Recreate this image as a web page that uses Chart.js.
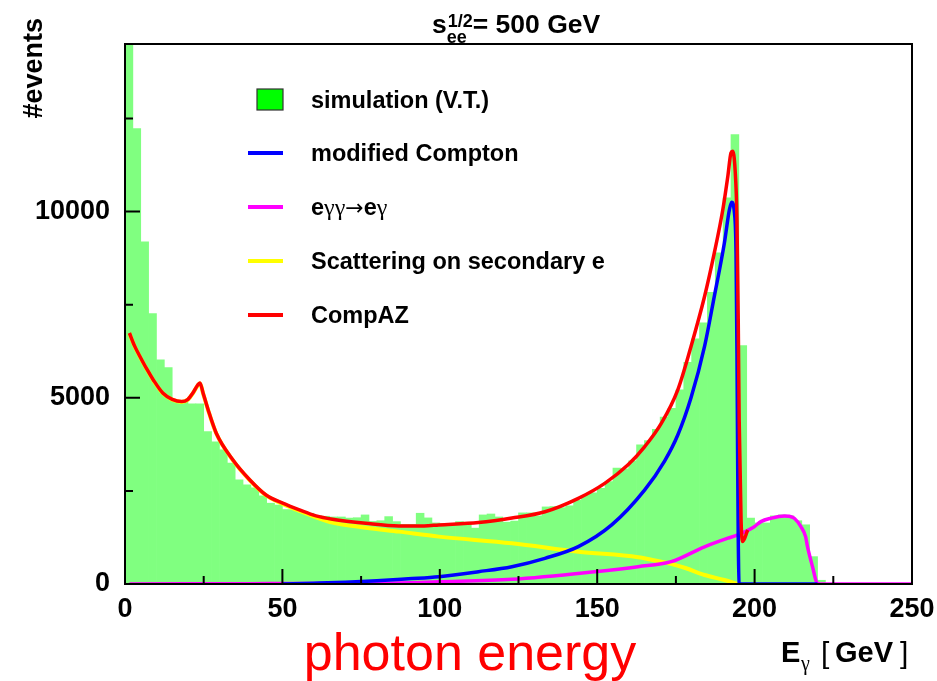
<!DOCTYPE html>
<html>
<head>
<meta charset="utf-8">
<script src="https://cdn.jsdelivr.net/npm/chart.js@4/dist/chart.umd.min.js"></script>
<style>
  html, body { margin: 0; padding: 0; background: #ffffff; }
  #c { display: block; }
</style>
</head>
<body>
<canvas id="c" width="937" height="681"></canvas>
<script>
// Photon energy spectrum at sqrt(s_ee) = 500 GeV: simulated histogram and CompAZ components

// Histogram: 2.5 GeV bins from 0 to 250 GeV (events per bin)
const binWidth = 2.5;
const simCounts = [
  15000, 12230, 9190, 7260, 6020, 5810, 4890, 4890, 4840, 4840,
  4090, 3820, 3600, 3250, 2800, 2660, 2580, 2370, 2170, 2120,
  2000, 1990, 1910, 1900, 1830, 1820, 1800, 1800, 1770, 1780,
  1855, 1680, 1700, 1810, 1675, 1600, 1600, 1900, 1775, 1640,
  1620, 1620, 1675, 1650, 1500, 1855, 1880, 1800, 1660, 1690,
  1910, 1910, 1830, 2070, 2080, 2050, 2100, 2250, 2380, 2450,
  2570, 2750, 3110, 3090, 3310, 3740, 3850, 4150, 4480, 4720,
  5215, 5950, 6580, 7010, 7830, 8890, 10370, 12070, 6400, 1770,
  1640, 1640, 1830, 1855, 1830, 1700, 1590, 735, 100, 0,
  0, 0, 0, 0, 0, 0, 0, 0, 0, 0
];
const binCenters = simCounts.map((_, i) => binWidth * (i + 0.5));

// CompAZ total
const compazE = [1.4, 3, 4.75, 7, 9, 12, 15, 18, 20, 21.5, 23, 23.8, 24.8, 26.4, 29, 34.3, 39.6, 44.8, 50.1, 55.4,
  60.7, 65.9, 76.5, 87, 95, 99.7, 112.3, 122.9, 133.4, 144, 152.5, 159.8, 165.1, 170.4, 175.6, 179.8, 184.1, 187.2,
  189.9, 191.5, 192.5, 193.0, 193.8, 194.4, 194.8, 195.1, 195.7, 196.2, 197.8];
const compazV = [6740, 6400, 6110, 5760, 5480, 5130, 4960, 4900, 4960, 5120, 5330, 5400, 5130, 4680, 4050, 3330, 2800, 2390, 2170, 1990,
  1830, 1740, 1630, 1560, 1560, 1585, 1650, 1770, 1940, 2300, 2710, 3200, 3690, 4320, 5215, 6380, 7720, 8890,
  10050, 10950, 11580, 11620, 11130, 9780, 7100, 4410, 1720, 1140, 1450];

// modified Compton
const comptonE = [50, 60, 70, 80, 90, 99.7, 112.3, 122.9, 133.4, 144, 154.6, 165.1, 171.4, 175.6, 179.8, 184.1, 187.2,
  190.4, 192, 192.7, 193.6, 194.1, 194.4, 194.6, 194.8, 195.1, 195.5, 220];
const comptonV = [0, 20, 45, 85, 140, 197, 331, 465, 690, 1003, 1586, 2527, 3300, 4000, 5000, 6379, 7723,
  9158, 10053, 10249, 9964, 8889, 6201, 3513, 1271, 20, 0, 0];

// e gamma gamma -> e gamma
const eggE = [1.4, 20, 40, 60, 80.7, 99.7, 122.9, 149.3, 163, 173.5, 184.1, 191.5, 194.6, 199.9, 202, 205.2, 209.4, 211,
  212.6, 214.7, 216.2, 216.8, 218.4, 219.9, 221, 250];
const eggV = [0, 5, 10, 15, 20, 60, 125, 330, 465, 600, 1000, 1230, 1317, 1540, 1675, 1766, 1828, 1820,
  1766, 1540, 1272, 1003, 465, 20, 0, 0];

// Scattering on secondary electrons
const secE = [1.4, 3, 4.75, 7, 9, 12, 15, 18, 20, 21.5, 23, 23.8, 24.8, 26.4, 29, 34.3, 39.6, 44.8, 50.1, 55.4,
  60.7, 65.9, 76.5, 87, 99.7, 122.9, 144, 163, 168, 173.5, 178, 184.1, 190.4, 194.6];
const secV = [6730, 6390, 6100, 5750, 5470, 5120, 4950, 4890, 4950, 5110, 5320, 5390, 5120, 4670, 4040, 3320, 2790, 2380, 2150, 1960,
  1790, 1648, 1513, 1406, 1272, 1094, 868, 720, 640, 540, 430, 242, 108, 0];

// Axis tick values
const xTicks = [0, 50, 100, 150, 200, 250];
const xMinorTicks = [25, 75, 125, 175, 225];
const yTicks = [0, 5000, 10000];
const yMinorTicks = [2500, 7500, 12500];

const pts = (xs, ys) => xs.map((x, i) => ({ x: x, y: ys[i] }));

const FONT = '"Liberation Sans", Arial, Helvetica, sans-serif';

const lineDs = (label, xs, ys, color, order, width) => ({
  type: 'line',
  label: label,
  data: pts(xs, ys),
  borderColor: color,
  backgroundColor: color,
  borderWidth: width,
  pointRadius: 0,
  fill: false,
  cubicInterpolationMode: 'monotone',
  order: order
});

// Axes frame, inward ticks, legend and texts
const decorations = {
  id: 'decorations',
  afterDraw(chart) {
    const ctx = chart.ctx;
    const a = chart.chartArea;
    const xs = chart.scales.x, ys = chart.scales.y;
    ctx.save();

    // frame
    ctx.strokeStyle = '#000';
    ctx.lineWidth = 2;
    ctx.strokeRect(a.left, a.top, a.right - a.left, a.bottom - a.top);

    // ticks pointing into the plot
    ctx.lineWidth = 2;
    ctx.beginPath();
    xTicks.forEach(v => { const p = xs.getPixelForValue(v); ctx.moveTo(p, a.bottom); ctx.lineTo(p, a.bottom - 15); });
    xMinorTicks.forEach(v => { const p = xs.getPixelForValue(v); ctx.moveTo(p, a.bottom); ctx.lineTo(p, a.bottom - 8); });
    yTicks.forEach(v => { const p = ys.getPixelForValue(v); ctx.moveTo(a.left, p); ctx.lineTo(a.left + 15, p); });
    yMinorTicks.forEach(v => { const p = ys.getPixelForValue(v); ctx.moveTo(a.left, p); ctx.lineTo(a.left + 8, p); });
    ctx.stroke();

    // legend
    const lx0 = 248, lx1 = 283, tx = 311;
    const rows = [100, 153, 207, 261, 315];
    ctx.fillStyle = '#00ff00';
    ctx.fillRect(257, 89, 26, 21);
    ctx.strokeStyle = '#333';
    ctx.lineWidth = 1.2;
    ctx.strokeRect(257, 89, 26, 21);
    const lineItems = [
      chart.data.datasets[2], // modified Compton
      chart.data.datasets[3], // e gamma gamma
      chart.data.datasets[4], // secondary e
      chart.data.datasets[1]  // CompAZ
    ];
    lineItems.forEach((ds, k) => {
      ctx.strokeStyle = ds.borderColor;
      ctx.lineWidth = 4;
      ctx.beginPath();
      ctx.moveTo(lx0, rows[k + 1]);
      ctx.lineTo(lx1, rows[k + 1]);
      ctx.stroke();
    });
    ctx.fillStyle = '#000';
    ctx.textBaseline = 'middle';
    ctx.textAlign = 'left';
    ctx.font = 'bold 23.5px ' + FONT;
    ctx.fillText(chart.data.datasets[0].label, tx, rows[0] + 2);
    ctx.fillText(lineItems[0].label, tx, rows[1] + 2);
    ctx.fillText(lineItems[2].label, tx, rows[3] + 2);
    ctx.fillText(lineItems[3].label, tx, rows[4] + 2);
    // e gamma gamma -> e gamma, with symbol glyphs
    const parts = [
      ['e', 'bold 23.5px ' + FONT],
      ['γγ', '24px "Liberation Serif", "DejaVu Serif", serif'],
      ['→', '22px "DejaVu Sans", sans-serif'],
      ['e', 'bold 23.5px ' + FONT],
      ['γ', '24px "Liberation Serif", "DejaVu Serif", serif']
    ];
    let px = tx;
    parts.forEach(([s, f]) => {
      ctx.font = f;
      ctx.fillText(s, px, rows[2] + 2);
      px += ctx.measureText(s).width;
    });

    // title: s_ee^{1/2} = 500 GeV
    ctx.textBaseline = 'alphabetic';
    ctx.font = 'bold 26.5px ' + FONT;
    let tX = 432;
    ctx.fillText('s', tX, 33);
    tX += ctx.measureText('s').width + 1;
    ctx.font = 'bold 18px ' + FONT;
    ctx.fillText('1/2', tX, 27);
    ctx.fillText('ee', tX - 1, 43);
    tX += ctx.measureText('1/2').width;
    ctx.font = 'bold 26.5px ' + FONT;
    ctx.fillText('= 500 GeV', tX, 33);

    // y axis title
    ctx.save();
    ctx.translate(42, 18);
    ctx.rotate(-Math.PI / 2);
    ctx.textAlign = 'right';
    ctx.font = 'bold 27px ' + FONT;
    ctx.fillText('#events', 0, 0);
    ctx.restore();

    // x axis title: E_gamma [GeV]
    ctx.textAlign = 'left';
    ctx.font = 'bold 29px ' + FONT;
    ctx.fillText('E', 781, 662);
    ctx.font = '20px "Liberation Serif", "DejaVu Serif", serif';
    ctx.fillText('γ', 801, 670);
    ctx.font = '30px ' + FONT;
    ctx.fillText('[', 821, 663);
    ctx.font = 'bold 29px ' + FONT;
    ctx.fillText('GeV', 835, 662);
    ctx.font = '30px ' + FONT;
    ctx.fillText(']', 900, 663);

    // caption
    ctx.textAlign = 'center';
    ctx.fillStyle = '#ff0000';
    ctx.font = '52px ' + FONT;
    ctx.fillText('photon energy', 470, 670);

    ctx.restore();
  }
};

new Chart(document.getElementById('c'), {
  type: 'bar',
  data: {
    datasets: [
      {
        type: 'bar',
        label: 'simulation (V.T.)',
        data: pts(binCenters, simCounts),
        backgroundColor: '#80ff80',
        borderWidth: 0,
        barPercentage: 1,
        categoryPercentage: 1,
        order: 5
      },
      lineDs('CompAZ', compazE, compazV, '#ff0000', 1, 3.5),
      lineDs('modified Compton', comptonE, comptonV, '#0000ff', 2, 3.5),
      lineDs('eγγ→eγ', eggE, eggV, '#ff00ff', 3, 3.5),
      lineDs('Scattering on secondary e', secE, secV, '#ffff00', 4, 4)
    ]
  },
  options: {
    responsive: false,
    devicePixelRatio: 1,
    animation: false,
    layout: { padding: { left: 0, right: 25, top: 44, bottom: 0 } },
    plugins: { legend: { display: false }, tooltip: { enabled: false } },
    scales: {
      x: {
        type: 'linear',
        min: 0,
        max: 250,
        offset: false,
        grid: { display: false, drawTicks: false },
        border: { display: false },
        ticks: {
          stepSize: 50,
          color: '#000',
          padding: 9,
          maxRotation: 0,
          font: { family: FONT, size: 27, weight: 'bold' },
          callback: v => String(v)
        },
        afterBuildTicks: s => { s.ticks = xTicks.map(v => ({ value: v })); },
        afterFit: s => { s.height = 97; s.paddingLeft = 0; s.paddingRight = 0; }
      },
      y: {
        type: 'linear',
        min: 0,
        max: 14500,
        grid: { display: false, drawTicks: false },
        border: { display: false },
        ticks: {
          color: '#000',
          padding: 15,
          font: { family: FONT, size: 27, weight: 'bold' },
          callback: v => String(v)
        },
        afterBuildTicks: s => { s.ticks = yTicks.map(v => ({ value: v })); },
        afterFit: s => { s.width = 125; s.paddingTop = 0; s.paddingBottom = 0; }
      }
    }
  },
  plugins: [decorations]
});
</script>
</body>
</html>
